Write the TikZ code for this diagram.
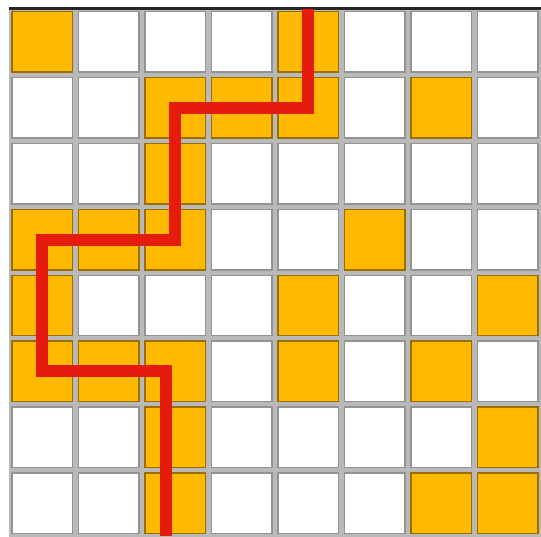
\documentclass[tikz,border=0pt]{standalone}
\usepackage{xcolor}
\usepackage{tikz}
\definecolor{gold}{HTML}{FFB900}
\definecolor{pathred}{HTML}{E51B0E}

\begin{document}
\begin{tikzpicture}[x=1.33cm,y=1.318cm,
 cell/.style={draw=gray!85,line width=0.8pt,fill=white,minimum size=1.21cm,inner sep=0pt},
 hit/.style={cell,fill=gold,draw=gold!60!black},
 route/.style={draw=pathred,line width=6.8pt,line join=miter}]
\useasboundingbox (-0.135,-8) rectangle (8,0.135);
\fill[gray!55] (0,0) rectangle (8.2,-8.2);
% grid of cells, named c-row-col
\foreach \r in {0,...,7}
  \foreach \c in {0,...,7}
    \node[cell] (c-\r-\c) at (\c+0.5,-\r-0.5) {};
% filled cells
\foreach \r/\c in {0/0,0/4,1/2,1/3,1/4,1/6,2/2,3/0,3/1,3/2,3/5,4/0,4/4,4/7,
                   5/0,5/1,5/2,5/4,5/6,6/2,6/7,7/2,7/6,7/7}
  \node[hit] (o-\r-\c) at (c-\r-\c) {};
\draw[black!85,line width=1.6pt] (0,0) -- (8.2,0);
\coordinate (start) at (4.5,0);
\coordinate (end) at (2.36,-8);
\draw[route] (start) -- (c-1-4.center) -- (c-1-2.center) -- (c-3-2.center)
  -- (c-3-0.center) -- (c-5-0.center) -- (c-5-0.center -| end) -- (end);
\end{tikzpicture}
\end{document}
